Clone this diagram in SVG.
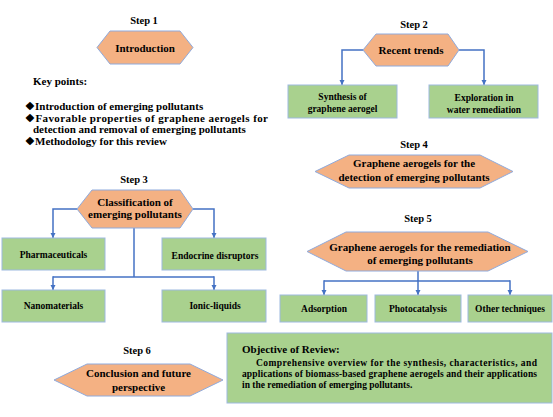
<svg xmlns="http://www.w3.org/2000/svg" width="553" height="417" viewBox="0 0 553 417">
<style>
text{font-family:'Liberation Serif','DejaVu Serif',serif;font-weight:bold;fill:#000}
.step{font-size:10.5px;text-anchor:middle}
.hl{font-size:11px;text-anchor:middle}
.bl{font-size:9.5px;text-anchor:middle}
.kp{font-size:11px}
.ob{font-size:9.5px}
.hex{fill:#F4B183;stroke:#8FAADC;stroke-width:1}
.box{fill:#A9D18E;stroke:#9DB9E0;stroke-width:1}
.con{fill:none;stroke:#4472C4;stroke-width:1.5}
</style>
<defs>
<marker id="ah" viewBox="0 0 10 10" refX="10" refY="5" markerWidth="3.6" markerHeight="3.6" orient="auto" markerUnits="strokeWidth">
<path d="M0,0 L10,5 L0,10 z" fill="#4472C4"/>
</marker>
</defs>
<rect width="553" height="417" fill="#fff"/>

<g id="connectors">
<path class="con" d="M363,50 H342 V85" marker-end="url(#ah)"/>
<path class="con" d="M459,50 H484 V85" marker-end="url(#ah)"/>
<path class="con" d="M77,209 H53 V238" marker-end="url(#ah)"/>
<path class="con" d="M193,209 H214 V238" marker-end="url(#ah)"/>
<path class="con" d="M134,228 V277"/>
<path class="con" d="M53,277 H214"/>
<path class="con" d="M53,276.3 V290" marker-end="url(#ah)"/>
<path class="con" d="M214,276.3 V290" marker-end="url(#ah)"/>
<path class="con" d="M418,271 V281"/>
<path class="con" d="M324,281 H510"/>
<path class="con" d="M324,280.3 V295" marker-end="url(#ah)"/>
<path class="con" d="M418,280.3 V295" marker-end="url(#ah)"/>
<path class="con" d="M510,280.3 V295" marker-end="url(#ah)"/>
</g>

<g font-family="Liberation Serif, serif" font-weight="bold">
<g id="step1">
<text class="step" x="144" y="24">Step 1</text>
<polygon class="hex" points="97,47.5 110,31 180,31 193,47.5 180,64 110,64"/>
<text class="hl" x="145" y="51.5">Introduction</text>
</g>

<g id="keypoints">
<text class="kp" x="33" y="85">Key points:</text>
<text class="kp" x="25" y="110">❖Introduction of emerging pollutants</text>
<text class="kp" x="25" y="122" textLength="243" lengthAdjust="spacing">❖Favorable properties of graphene aerogels for</text>
<text class="kp" x="33" y="133">detection and removal of emerging pollutants</text>
<text class="kp" x="25" y="145">❖Methodology for this review</text>
</g>

<g id="step2">
<text class="step" x="414" y="28">Step 2</text>
<polygon class="hex" points="363,50 376,34 448,34 459,50 448,66 376,66"/>
<text class="hl" x="411" y="54">Recent trends</text>
</g>

<g id="synthesis">
<rect class="box" x="288" y="85" width="109" height="33"/>
<text class="bl" x="342.5" y="99.5">Synthesis of</text>
<text class="bl" x="342.5" y="111.5">graphene aerogel</text>
</g>

<g id="exploration">
<rect class="box" x="429" y="85" width="109" height="33"/>
<text class="bl" x="484" y="100.5">Exploration  in</text>
<text class="bl" x="484" y="112.5">water remediation</text>
</g>

<g id="step4">
<text class="step" x="414" y="148">Step 4</text>
<polygon class="hex" points="315,171.5 349,155 480,155 513,171.5 480,188 349,188"/>
<text class="hl" x="414" y="167">Graphene aerogels for the</text>
<text class="hl" x="414" y="180.5">detection of emerging pollutants</text>
</g>

<g id="step3">
<text class="step" x="134" y="183">Step 3</text>
<polygon class="hex" points="77,209 92,190 180,190 193,209 180,228 92,228"/>
<text class="hl" x="135" y="205.5">Classification of</text>
<text class="hl" x="135" y="218">emerging pollutants</text>
</g>

<g id="pharmaceuticals">
<rect class="box" x="2" y="238" width="103" height="32"/>
<text class="bl" x="53.5" y="257.5">Pharmaceuticals</text>
</g>

<g id="endocrine">
<rect class="box" x="162" y="238" width="104" height="32"/>
<text class="bl" x="215" y="258.5">Endocrine disruptors</text>
</g>

<g id="nanomaterials">
<rect class="box" x="2" y="290" width="103" height="32"/>
<text class="bl" x="53.5" y="309">Nanomaterials</text>
</g>

<g id="ionic">
<rect class="box" x="162" y="290" width="104" height="32"/>
<text class="bl" x="215" y="309">Ionic-liquids</text>
</g>

<g id="step5">
<text class="step" x="418" y="222">Step 5</text>
<polygon class="hex" points="307,251.5 346,232 488,232 528,251.5 488,271 346,271"/>
<text class="hl" x="420" y="250.5">Graphene aerogels for the remediation</text>
<text class="hl" x="420" y="263.5">of emerging pollutants</text>
</g>

<g id="adsorption">
<rect class="box" x="280" y="295" width="87" height="27"/>
<text class="bl" x="324" y="311.5">Adsorption</text>
</g>

<g id="photocatalysis">
<rect class="box" x="375" y="295" width="86" height="27"/>
<text class="bl" x="418" y="311.5">Photocatalysis</text>
</g>

<g id="other">
<rect class="box" x="468" y="295" width="84" height="27"/>
<text class="bl" x="510" y="311.5">Other techniques</text>
</g>

<g id="step6">
<text class="step" x="137" y="354">Step 6</text>
<polygon class="hex" points="54,380 87,364 190,364 223,380 190,396 87,396"/>
<text class="hl" x="138.5" y="377">Conclusion and future</text>
<text class="hl" x="138.5" y="391">perspective</text>
</g>

<g id="objective">
<rect class="box" x="227" y="333" width="325" height="70"/>
<text x="242" y="353" style="font-size:11px">Objective of Review:</text>
<text class="ob" x="256" y="366" textLength="281" lengthAdjust="spacing">Comprehensive overview for the synthesis, characteristics, and</text>
<text class="ob" x="242" y="377" textLength="295" lengthAdjust="spacing">applications of biomass-based graphene aerogels and their applications</text>
<text class="ob" x="242" y="388">in the remediation of emerging pollutants.</text>
</g>
</g>
</svg>
